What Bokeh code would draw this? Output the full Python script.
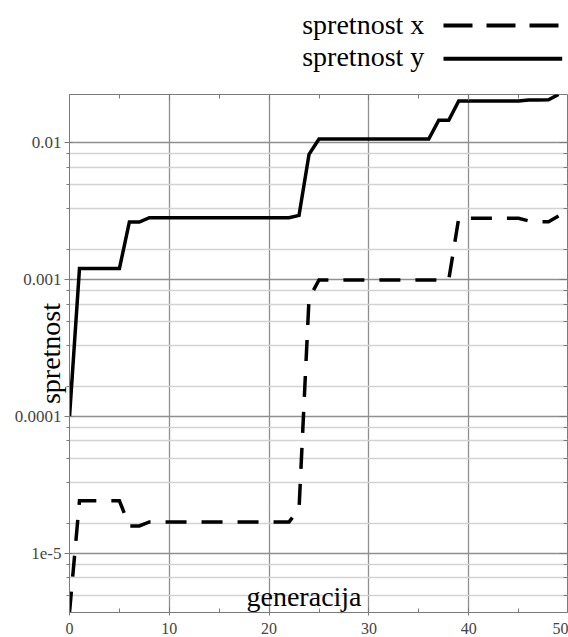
from bokeh.plotting import figure
from bokeh.layouts import column
from bokeh.models import (Range1d, FixedTicker, LinearAxis, LogAxis, Label,
                          ColumnDataSource)
from bokeh.embed import file_html
from bokeh.resources import INLINE
from bokeh.core.properties import value

# ---------------- data ----------------
generacija = [0, 1, 2, 3, 4, 5, 6, 7, 8, 9,
              10, 11, 12, 13, 14, 15, 16, 17, 18, 19,
              20, 21, 22, 23, 24, 25, 26, 27, 28, 29,
              30, 31, 32, 33, 34, 35, 36, 37, 38, 39,
              40, 41, 42, 43, 44, 45, 46, 47, 48, 49]

spretnost_x = [3.73e-6, 2.44e-5, 2.44e-5, 2.44e-5, 2.44e-5, 2.44e-5, 1.60e-5, 1.60e-5, 1.71e-5, 1.71e-5,
               1.71e-5, 1.71e-5, 1.71e-5, 1.71e-5, 1.71e-5, 1.71e-5, 1.71e-5, 1.71e-5, 1.71e-5, 1.71e-5,
               1.71e-5, 1.71e-5, 1.71e-5, 2.13e-5, 7.3e-4, 1.0e-3, 1.0e-3, 1.0e-3, 1.0e-3, 1.0e-3,
               1.0e-3, 1.0e-3, 1.0e-3, 1.0e-3, 1.0e-3, 1.0e-3, 1.0e-3, 1.0e-3, 1.0e-3, 2.82e-3,
               2.82e-3, 2.82e-3, 2.82e-3, 2.82e-3, 2.82e-3, 2.82e-3, 2.70e-3, 2.66e-3, 2.66e-3, 2.93e-3]

spretnost_y = [1.0e-4, 1.21e-3, 1.21e-3, 1.21e-3, 1.21e-3, 1.21e-3, 2.65e-3, 2.65e-3, 2.85e-3, 2.85e-3,
               2.85e-3, 2.85e-3, 2.85e-3, 2.85e-3, 2.85e-3, 2.85e-3, 2.85e-3, 2.85e-3, 2.85e-3, 2.85e-3,
               2.85e-3, 2.85e-3, 2.85e-3, 2.96e-3, 8.27e-3, 1.07e-2, 1.07e-2, 1.07e-2, 1.07e-2, 1.07e-2,
               1.07e-2, 1.07e-2, 1.07e-2, 1.07e-2, 1.07e-2, 1.07e-2, 1.07e-2, 1.466e-2, 1.466e-2, 2.03e-2,
               2.03e-2, 2.03e-2, 2.03e-2, 2.03e-2, 2.03e-2, 2.03e-2, 2.06e-2, 2.06e-2, 2.07e-2, 2.26e-2]

x_ticks = [0, 10, 20, 30, 40, 50]
x_minor_ticks = [5, 15, 25, 35, 45]
y_ticks = [1e-5, 1e-4, 1e-3, 1e-2]
y_tick_labels = ["1e-5", "0.0001", "0.001", "0.01"]
y_minor_ticks = [0.00833, 0.00667, 0.005, 0.00333, 0.00167,
                 0.000833, 0.000667, 0.0005, 0.000333, 0.000167,
                 8.33e-5, 6.67e-5, 5e-5, 3.33e-5, 1.67e-5,
                 8.33e-6, 6.67e-6, 5e-6]
legend_labels = ["spretnost x", "spretnost y"]
x_axis_title = "generacija"
y_axis_title = "spretnost"

# ---------------- styles / layout ----------------
W = 568
BORDER_L = 69
FRAME_W = W - BORDER_L
LEG_H = 88
MAIN_H = 549
SERIF = "Liberation Serif"
AX_COLOR = "#7a7a7a"
LABEL_COLOR = "#444444"

# ---------------- legend strip (pixel coordinates relative to the frame) ----------------
leg = figure(width=W, height=LEG_H, x_range=Range1d(0, FRAME_W), y_range=Range1d(0, LEG_H),
             output_backend="svg", toolbar_location=None,
             x_axis_location=None, y_axis_location=None,
             min_border_left=BORDER_L, min_border_right=0, min_border_top=0,
             min_border_bottom=0, outline_line_color=None)
leg.xgrid.visible = False
leg.ygrid.visible = False

leg_src = ColumnDataSource(dict(x=[232.7, 232.7], y=[64, 32], t=legend_labels))
leg.text(x="x", y="y", text="t", source=leg_src, text_font=value(SERIF),
         text_font_size="28px", text_color="black", text_align="left",
         text_baseline="alphabetic")
leg.line(x=[374, 492.7], y=[63, 63], line_width=4, line_color="black",
         line_dash="29 14", line_cap="butt")
leg.line(x=[374, 492.7], y=[29.7, 29.7], line_width=4, line_color="black",
         line_cap="butt")

# ---------------- main figure ----------------
p = figure(width=W, height=MAIN_H,
           x_range=Range1d(x_ticks[0], x_ticks[-1]),
           y_range=Range1d(min(spretnost_x), max(spretnost_y)),
           y_axis_type="log", output_backend="svg", toolbar_location=None,
           min_border_left=BORDER_L, min_border_right=0, min_border_top=6,
           min_border_bottom=25, outline_line_color=AX_COLOR, outline_line_width=1)

src = ColumnDataSource(dict(generacija=generacija, spretnost_x=spretnost_x,
                            spretnost_y=spretnost_y))

# grids
p.xgrid.ticker = FixedTicker(ticks=x_ticks)
p.xgrid.grid_line_color = "#8f8f8f"
p.xgrid.grid_line_width = 1.3
p.ygrid.ticker = FixedTicker(ticks=y_ticks, minor_ticks=y_minor_ticks)
p.ygrid.grid_line_color = "#8f8f8f"
p.ygrid.grid_line_width = 1.3
p.ygrid.minor_grid_line_color = "#d3d3d3"
p.ygrid.minor_grid_line_width = 1.5

# bottom axis
xa = p.xaxis[0]
xa.ticker = FixedTicker(ticks=x_ticks, minor_ticks=x_minor_ticks)
xa.axis_line_color = AX_COLOR
xa.major_tick_line_color = AX_COLOR
xa.minor_tick_line_color = AX_COLOR
xa.major_tick_in = 5
xa.major_tick_out = 3
xa.minor_tick_in = 4
xa.minor_tick_out = 0
xa.major_label_standoff = 7
xa.major_label_text_font = SERIF
xa.major_label_text_font_size = "16px"
xa.major_label_text_color = LABEL_COLOR

# left axis, with its rotated title tucked in between the tick labels
ya = p.yaxis[0]
ya.ticker = FixedTicker(ticks=y_ticks, minor_ticks=y_minor_ticks)
ya.major_label_overrides = dict(zip(y_ticks, y_tick_labels))
ya.axis_line_color = AX_COLOR
ya.major_tick_line_color = AX_COLOR
ya.minor_tick_line_color = AX_COLOR
ya.major_tick_in = 3
ya.major_tick_out = 5
ya.minor_tick_in = 0
ya.minor_tick_out = 3
ya.major_label_standoff = 3
ya.major_label_text_font = SERIF
ya.major_label_text_font_size = "17px"
ya.major_label_text_color = LABEL_COLOR
ya.axis_label = y_axis_title
ya.axis_label_text_font = SERIF
ya.axis_label_text_font_size = "28px"
ya.axis_label_text_font_style = "normal"
ya.axis_label_text_color = "black"
ya.axis_label_standoff = -54

# top axis (ticks only)
ta = LinearAxis(ticker=FixedTicker(ticks=x_ticks, minor_ticks=x_minor_ticks),
                axis_line_color=None, major_tick_line_color=AX_COLOR,
                minor_tick_line_color=AX_COLOR, major_tick_in=6, major_tick_out=0,
                minor_tick_in=4, minor_tick_out=0,
                major_label_overrides={t: "" for t in x_ticks},
                major_label_standoff=0)
p.add_layout(ta, "above")

# right axis (ticks only)
ra = LogAxis(ticker=FixedTicker(ticks=y_ticks, minor_ticks=y_minor_ticks),
             axis_line_color=None, major_tick_line_color=AX_COLOR,
             minor_tick_line_color=AX_COLOR, major_tick_in=9, major_tick_out=0,
             minor_tick_in=5, minor_tick_out=0,
             major_label_overrides={t: "" for t in y_ticks},
             major_label_standoff=0)
p.add_layout(ra, "right")

# series
p.line("generacija", "spretnost_x", source=src, line_width=3.5, line_color="black",
       line_dash="21 15", line_cap="butt", line_join="miter")
p.line("generacija", "spretnost_y", source=src, line_width=3.5, line_color="black",
       line_cap="butt", line_join="miter")

# x axis title inside the frame
p.add_layout(Label(x=23.5, y=4.9e-6, text=x_axis_title, text_align="center",
                   text_baseline="alphabetic", text_font=SERIF,
                   text_font_size="28px", text_color="black"))

layout = column(leg, p, spacing=0)
open("out.html", "w").write(file_html(layout, INLINE))
